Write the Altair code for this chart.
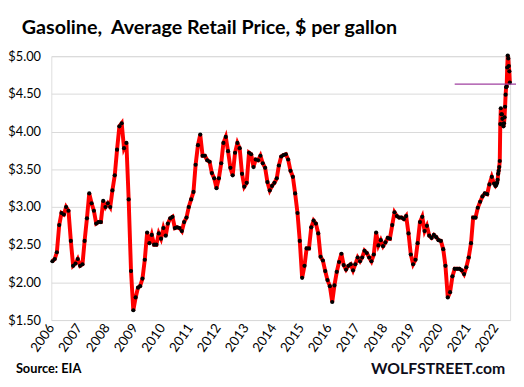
import altair as alt
import pandas as pd

# Monthly readings (mid-month), $ per gallon
monthly = {
    2006: [2.28, 2.31, 2.40, 2.76, 2.92, 2.90, 3.00, 2.95, 2.55, 2.22, 2.25, 2.31],
    2007: [2.22, 2.24, 2.55, 2.85, 3.18, 3.05, 2.95, 2.78, 2.80, 2.80, 3.08, 3.00],
    2008: [3.05, 3.00, 3.22, 3.42, 3.76, 4.07, 4.11, 3.78, 3.85, 3.10, 2.15, 1.63],
    2009: [1.80, 1.93, 1.95, 2.05, 2.30, 2.66, 2.52, 2.63, 2.50, 2.50, 2.65, 2.58],
    2010: [2.72, 2.62, 2.78, 2.85, 2.87, 2.72, 2.73, 2.72, 2.68, 2.80, 2.86, 3.00],
    2011: [3.10, 3.20, 3.56, 3.82, 3.96, 3.68, 3.68, 3.62, 3.60, 3.45, 3.38, 3.25],
    2012: [3.38, 3.58, 3.85, 3.93, 3.74, 3.52, 3.42, 3.72, 3.85, 3.78, 3.44, 3.27],
    2013: [3.32, 3.72, 3.70, 3.53, 3.63, 3.62, 3.68, 3.58, 3.52, 3.33, 3.22, 3.28],
    2014: [3.32, 3.38, 3.55, 3.67, 3.69, 3.70, 3.63, 3.48, 3.40, 3.18, 2.92, 2.55],
    2015: [2.06, 2.22, 2.45, 2.45, 2.73, 2.82, 2.78, 2.65, 2.34, 2.29, 2.15, 2.03],
    2016: [1.95, 1.74, 1.96, 2.14, 2.27, 2.38, 2.23, 2.17, 2.22, 2.24, 2.16, 2.24],
    2017: [2.33, 2.28, 2.33, 2.42, 2.39, 2.33, 2.28, 2.37, 2.66, 2.49, 2.56, 2.48],
    2018: [2.53, 2.59, 2.58, 2.76, 2.93, 2.88, 2.86, 2.86, 2.84, 2.88, 2.65, 2.37],
    2019: [2.24, 2.30, 2.52, 2.80, 2.87, 2.68, 2.75, 2.62, 2.59, 2.63, 2.60, 2.56],
    2020: [2.55, 2.44, 2.22, 1.80, 1.87, 2.08, 2.18, 2.18, 2.18, 2.16, 2.11, 2.20],
    2021: [2.33, 2.52, 2.86, 2.86, 2.99, 3.07, 3.14, 3.18, 3.17, 3.30, 3.40, 3.31],
}

# Weekly readings for 2022
dates_2022 = ["2022-01-03", "2022-01-10", "2022-01-17", "2022-01-24", "2022-01-31",
              "2022-02-07", "2022-02-14", "2022-02-21", "2022-02-28", "2022-03-07",
              "2022-03-14", "2022-03-21", "2022-03-28", "2022-04-04", "2022-04-11",
              "2022-04-18", "2022-04-25", "2022-05-02", "2022-05-09", "2022-05-16",
              "2022-05-23", "2022-05-30", "2022-06-06", "2022-06-13", "2022-06-20",
              "2022-06-27", "2022-07-04", "2022-07-11"]
prices_2022 = [3.28, 3.29, 3.31, 3.32, 3.36, 3.44, 3.48, 3.53, 3.61, 4.10,
               4.31, 4.23, 4.23, 4.17, 4.10, 4.07, 4.11, 4.19, 4.33, 4.49,
               4.59, 4.60, 4.85, 5.01, 4.97, 4.87, 4.80, 4.65]

y_ticks = [1.5, 2.0, 2.5, 3.0, 3.5, 4.0, 4.5, 5.0]
ref_level = [4.63]
ref_start = ["2020-07-15"]
ref_end = ["2022-10-01"]

dates, prices = [], []
for yr, vals in monthly.items():
    for m, v in enumerate(vals, start=1):
        dates.append(f"{yr}-{m:02d}-15")
        prices.append(v)
dates += dates_2022
prices += prices_2022

df = pd.DataFrame({"date": dates, "price": prices})
ref_df = pd.DataFrame({"date": ref_start, "end": ref_end, "price": ref_level})

FONT = "Lato"

x_enc = alt.X(
    "date:T",
    scale=alt.Scale(domain=["2006-01-01", "2022-07-14"]),
    axis=alt.Axis(
        title=None, format="%Y", tickCount={"interval": "year", "step": 1},
        labelAngle=305, labelAlign="right", labelBaseline="middle",
        labelFontSize=13.5, labelColor="#000", labelPadding=5,
        ticks=False, domain=False, grid=False, labelFont=FONT,
        labelOverlap=False,
    ),
)
y_enc = alt.Y(
    "price:Q",
    scale=alt.Scale(domain=[1.5, 5.0], nice=False, zero=False),
    axis=alt.Axis(
        title=None, values=y_ticks, format="$.2f", grid=True,
        gridColor="#d9d9d9", gridWidth=1, ticks=False, domain=False,
        labelFontSize=13, labelColor="#000", labelPadding=11, labelFont=FONT,
        labelOverlap=False, tickCount=8,
    ),
)

base = alt.Chart(df)
line = base.mark_line(color="#ff0000", strokeWidth=4, clip=False).encode(x=x_enc, y=y_enc)
dots = base.mark_point(
    shape="circle", filled=True, color="#000000", size=18, opacity=1, strokeWidth=0, clip=False
).encode(x=x_enc, y=y_enc)

rule = alt.Chart(ref_df).mark_rule(color="#a040a0", strokeWidth=1.3, clip=False).encode(
    x=x_enc, x2="end:T", y=y_enc
)

src_df = pd.DataFrame({"t": ["Source: EIA"]})
source = alt.Chart(src_df).mark_text(
    font=FONT, fontSize=13, fontWeight="bold", color="#000", align="left", baseline="alphabetic"
).encode(text="t:N", x=alt.value(-36), y=alt.value(322))

ws_df = pd.DataFrame({"t": ["WOLFSTREET.com"]})
wolf = alt.Chart(ws_df).mark_text(
    font=FONT, fontSize=16, fontWeight="bold", color="#0d0d1a", align="right", baseline="alphabetic"
).encode(text="t:N", x=alt.value(461), y=alt.value(323))

chart = alt.layer(line, dots, rule, source, wolf).properties(
    width=466,
    height=268,
    autosize=alt.AutoSizeParams(type="none"),
    padding={"left": 44, "top": 46, "right": 6, "bottom": 65},
    title=alt.TitleParams(
        "Gasoline,\u00a0 Average Retail Price, $ per gallon",
        font=FONT, fontSize=20, fontWeight="bold", color="#000",
        anchor="start", frame="group", dx=-30, offset=10,
    ),
).configure_view(stroke=None).configure(font=FONT)

chart.save("out.html", embed_options={"renderer": "svg", "actions": False})
